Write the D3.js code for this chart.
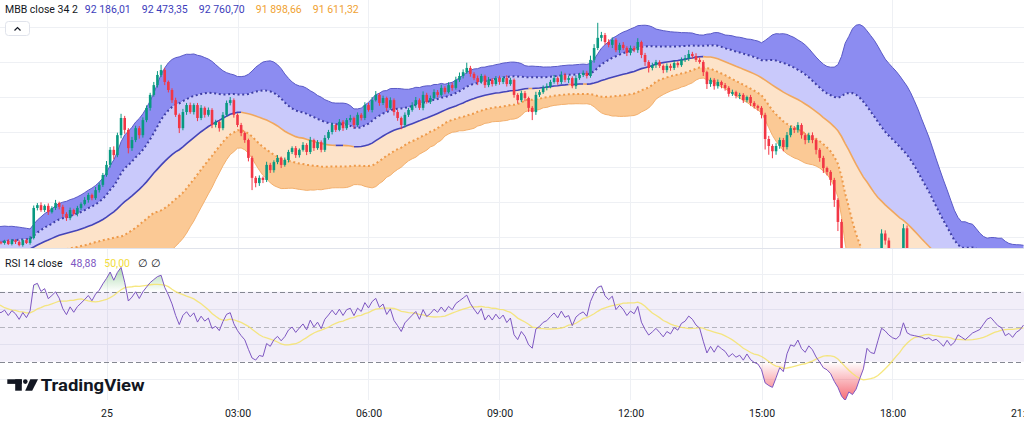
<!DOCTYPE html>
<html>
<head>
<meta charset="utf-8">
<script src="https://cdn.jsdelivr.net/npm/d3@7"></script>
<style>
  body { margin: 0; background: #fff; }
  svg { display: block; font-family: Roboto, "Noto Sans", sans-serif; }
</style>
</head>
<body>
<div id="chart"></div>
<script>
(function () {

  // 5 minute bars, first visible bar is 24 Nov 21:35 (UTC)
  const startTime = Date.UTC(2024, 10, 24, 21, 35)
  const barMs = 5 * 60 * 1000

  // closes before the visible window (needed for the 34 bar bands and RSI)
  const warmup = [
    91600, 91500, 91450, 91550, 91400, 91350, 91500, 91600, 91550, 91700,
    91650, 91800, 91750, 91900, 91850, 92000, 91950, 92150, 92100, 92300,
    92250, 92450, 92400, 92600, 92550, 92750, 92700, 92950, 92700, 92900,
    92650, 92850, 92700, 92900, 92750, 92850, 92700, 92900, 92800, 92850
  ]

  // visible closes (open = previous close)
  const closes = [
    92830, 92890, 92800, 92910, 92860, 92770, 92910, 92830, 92970, 93830,
    93910, 93770, 93890, 93710, 93830, 93970, 93860, 93660, 93540, 93770,
    93660, 93830, 93940, 94060, 94200, 94110, 94340, 94490, 94770, 95060,
    95490, 95340, 95910, 96400, 96060, 95540, 95770, 96110, 95910, 96340,
    96690, 97060, 97340, 97630, 97770, 97430, 97200, 96910, 96490, 96110,
    96570, 96770, 96570, 96770, 96400, 96690, 96490, 96630, 96200, 96290,
    96110, 96490, 96830, 96910, 96490, 96200, 95970, 95770, 95260, 94690,
    94540, 94690, 94630, 95060, 94910, 95140, 95260, 95060, 95200, 95430,
    95540, 95340, 95490, 95630, 95430, 95770, 95540, 95710, 95490, 95830,
    96000, 96200, 96060, 96290, 96110, 96340, 96400, 96200, 96490, 96400,
    96770, 96630, 96910, 97060, 96830, 96970, 96690, 96910, 96570, 96400,
    96200, 96490, 96630, 96770, 96910, 96690, 97060, 96860, 96970, 97140,
    97060, 97260, 97140, 97340, 97260, 97490, 97600, 97710, 97830, 97660,
    97540, 97430, 97600, 97340, 97490, 97370, 97540, 97430, 97540, 97370,
    97490, 97060, 96910, 97110, 96970, 96690, 96570, 97060, 97140, 97260,
    97310, 97430, 97540, 97430, 97630, 97490, 97540, 97310, 97540, 97630,
    97690, 97600, 98060, 98400, 98690, 98770, 98570, 98490, 98630, 98340,
    98490, 98400, 98260, 98400, 98340, 98570, 98200, 98000, 97830, 97910,
    98000, 97890, 97770, 97890, 97830, 97970, 97910, 98060, 98110, 98230,
    98170, 98060, 98000, 97710, 97370, 97490, 97310, 97430, 97340, 97260,
    97090, 97140, 97030, 97060, 96910, 97000, 96830, 96740, 96690, 96490,
    95800, 95600, 95450, 95600, 95770, 95570, 95910, 96110, 96060, 96200,
    95910, 95770, 95910, 95770, 95490, 95260, 94970, 94860, 94630, 94060,
    93430, 91900, 90500, 90800, 90100, 90300, 90700, 91100, 92100, 91700,
    91600, 92300, 93100, 92900, 92600, 92400, 92300, 92500, 93250, 92600,
    92450, 92400, 92350, 92300, 92200, 92250, 92100, 92150, 92000, 91800,
    92000, 91750, 91850, 92100, 92000, 91900, 92000, 92100, 92150, 92200,
    92350, 92500, 92550, 92450, 92350, 92300, 92100, 92150, 92050, 92150,
    92200, 92300
  ]

  // upper / lower wick length beyond the body, USD
  const wickUp = [
    40, 30, 50, 35, 25, 45, 30, 40, 60, 70,
    60, 80, 40, 70, 50, 90, 40, 60, 50, 70,
    40, 60, 50, 80, 60, 40, 90, 70, 60, 110,
    80, 100, 70, 120, 60, 50, 90, 70, 60, 80,
    70, 60, 90, 110, 150, 60, 40, 50, 70, 40,
    90, 60, 70, 50, 60, 80, 40, 70, 50, 60,
    40, 80, 70, 90, 50, 40, 60, 50, 40, 60,
    50, 70, 40, 90, 60, 50, 80, 40, 70, 60,
    50, 60, 40, 80, 50, 90, 40, 60, 50, 80,
    60, 70, 40, 80, 50, 60, 90, 40, 70, 50,
    80, 60, 90, 110, 50, 70, 40, 80, 50, 60,
    40, 70, 60, 80, 90, 50, 100, 60, 70, 80,
    60, 90, 50, 80, 70, 90, 100, 80, 150, 60,
    50, 70, 60, 40, 80, 50, 60, 70, 50, 80,
    60, 40, 50, 70, 60, 40, 50, 90, 60, 70,
    80, 60, 90, 50, 100, 60, 70, 50, 80, 60,
    70, 60, 120, 110, 430, 90, 60, 80, 70, 50,
    60, 80, 50, 70, 60, 110, 40, 60, 50, 70,
    60, 50, 40, 70, 60, 80, 50, 70, 90, 110,
    60, 80, 70, 50, 40, 60, 50, 70, 40, 60,
    50, 70, 40, 60, 50, 40, 60, 50, 40, 50,
    60, 90, 50, 80, 70, 60, 90, 70, 60, 80,
    50, 60, 70, 80, 40, 50, 60, 40, 50, 60,
    50, 80, 60, 50, 40, 70, 90, 120, 150, 110,
    130, 150, 120, 90, 80, 70, 60, 90, 120, 80,
    70, 60, 80, 50, 60, 90, 50, 70, 60, 80,
    90, 60, 70, 80, 60, 50, 70, 60, 80, 70,
    90, 80, 60, 70, 60, 50, 70, 60, 80, 60,
    70, 60
  ]
  const wickDn = [
    40, 50, 30, 40, 60, 35, 45, 30, 50, 40,
    70, 50, 60, 80, 40, 60, 70, 90, 80, 60,
    50, 70, 60, 40, 80, 60, 50, 70, 60, 50,
    80, 120, 60, 90, 110, 150, 80, 60, 100, 70,
    60, 80, 50, 70, 60, 90, 70, 80, 60, 140,
    60, 80, 50, 70, 90, 60, 80, 50, 90, 70,
    100, 60, 50, 70, 80, 60, 90, 80, 100, 350,
    120, 80, 90, 60, 80, 70, 60, 90, 50, 70,
    60, 80, 70, 50, 90, 60, 80, 50, 70, 60,
    50, 70, 60, 40, 80, 50, 60, 90, 50, 70,
    60, 50, 70, 40, 80, 60, 90, 50, 100, 80,
    120, 70, 60, 50, 80, 60, 70, 50, 60, 40,
    70, 50, 60, 40, 80, 50, 60, 70, 50, 80,
    60, 90, 50, 80, 60, 70, 50, 80, 60, 70,
    50, 80, 100, 60, 90, 120, 230, 80, 60, 50,
    70, 60, 50, 80, 60, 70, 90, 60, 80, 50,
    60, 70, 50, 80, 60, 100, 80, 70, 90, 60,
    80, 60, 90, 70, 60, 80, 90, 110, 130, 70,
    80, 60, 90, 70, 80, 60, 70, 50, 60, 80,
    70, 60, 50, 110, 140, 80, 100, 70, 90, 80,
    80, 60, 70, 90, 80, 60, 90, 70, 80, 100,
    300, 250, 200, 100, 80, 120, 70, 60, 90, 80,
    100, 120, 80, 90, 130, 110, 140, 100, 160, 200,
    260, 300, 250, 280, 320, 350, 200, 150, 180, 200,
    160, 150, 140, 120, 100, 110, 130, 90, 100, 120,
    80, 90, 70, 100, 80, 90, 110, 80, 120, 150,
    90, 140, 80, 70, 100, 90, 80, 70, 90, 80,
    60, 80, 70, 90, 80, 100, 90, 80, 70, 90,
    80, 70
  ]

  const priceTicks = [93000, 94000, 95000, 96000, 97000, 98000, 99000]
  const rsiGrid = [20, 40, 60, 80]
  const rsiLevels = [70, 50, 30]
  const mbbTitle = "MBB close 34 2"
  const mbbValues = ["92 186,01", "92 473,35", "92 760,70", "91 898,66", "91 611,32"]
  const rsiTitle = "RSI 14 close"
  const rsiValues = ["48,88", "50,00", "\u2205 \u2205"]

  const width = 1024
  const height = 425
  const mainBottom = 248
  const rsiTop = 249
  const rsiBottom = 400

  const upColor = "#089981"
  const downColor = "#f23645"

  const svg = d3.select("#chart").append("svg")
    .attr("width", width)
    .attr("height", height)

  const xs = d3.scaleUtc()
    .domain([new Date(Date.UTC(2024, 10, 25, 0, 0)), new Date(Date.UTC(2024, 10, 25, 21, 0))])
    .range([106.5, 1023.5])

  const yPrice = d3.scaleLinear().domain([93000, 99000]).range([237, 27])
  const yRsi = d3.scaleLinear().domain([30, 70]).range([361.7, 291.7])

  // bars
  const all = warmup.concat(closes)
  const n0 = warmup.length
  const bars = all.map((c, j) => ({ j, t: new Date(startTime + (j - n0) * barMs), close: c }))

  // multi bollinger bands: sma 34, population stdev
  const len = 34
  bars.forEach((b, j) => {
    if (j < len - 1) return
    const win = all.slice(j - len + 1, j + 1)
    const m = d3.mean(win)
    b.basis = m
    b.sd = Math.sqrt(d3.mean(win, v => (v - m) * (v - m)))
  })

  // RSI 14 (wilder) and its 14 sma
  let ag = 0, al = 0
  for (let j = 1; j < all.length; j++) {
    const ch = all[j] - all[j - 1]
    const g = Math.max(ch, 0), l = Math.max(-ch, 0)
    if (j <= 14) {
      ag += g / 14
      al += l / 14
      if (j < 14) continue
    } else {
      ag = (ag * 13 + g) / 14
      al = (al * 13 + l) / 14
    }
    bars[j].rsi = al === 0 ? 100 : 100 - 100 / (1 + ag / al)
  }
  bars.forEach((b, j) => {
    if (j < 27) return
    b.rsiMa = d3.mean(bars.slice(j - 13, j + 1), d => d.rsi)
  })

  const visible = bars.slice(n0).map((b, k) => {
    const o = all[b.j - 1]
    return Object.assign(b, {
      open: o,
      high: Math.max(o, b.close) + wickUp[k],
      low: Math.min(o, b.close) - wickDn[k]
    })
  })

  // clip paths
  const defs = svg.append("defs")
  defs.append("clipPath").attr("id", "clipMain")
    .append("rect").attr("x", 0).attr("y", 0).attr("width", width).attr("height", mainBottom)
  defs.append("clipPath").attr("id", "clipRsi")
    .append("rect").attr("x", 0).attr("y", rsiTop).attr("width", width).attr("height", rsiBottom - rsiTop)

  const ob = defs.append("linearGradient").attr("id", "obGrad")
    .attr("gradientUnits", "userSpaceOnUse")
    .attr("x1", 0).attr("x2", 0).attr("y1", yRsi(100)).attr("y2", yRsi(70))
  ob.append("stop").attr("offset", 0).attr("stop-color", "#4caf50").attr("stop-opacity", 1)
  ob.append("stop").attr("offset", 1).attr("stop-color", "#4caf50").attr("stop-opacity", 0)
  const os = defs.append("linearGradient").attr("id", "osGrad")
    .attr("gradientUnits", "userSpaceOnUse")
    .attr("x1", 0).attr("x2", 0).attr("y1", yRsi(0)).attr("y2", yRsi(30))
  os.append("stop").attr("offset", 0).attr("stop-color", "#f23645").attr("stop-opacity", 1)
  os.append("stop").attr("offset", 1).attr("stop-color", "#f23645").attr("stop-opacity", 0)

  // grid
  const timeTicks = xs.ticks(d3.utcHour.every(3))
  svg.append("g").selectAll("line")
    .data(timeTicks)
    .join("line")
    .attr("x1", d => Math.round(xs(d)) + 0.5)
    .attr("x2", d => Math.round(xs(d)) + 0.5)
    .attr("y1", 0)
    .attr("y2", rsiBottom)
    .attr("stroke", "#eef0f4")

  svg.append("g").selectAll("line")
    .data(priceTicks)
    .join("line")
    .attr("x1", 0).attr("x2", width)
    .attr("y1", d => Math.round(yPrice(d)) + 0.5)
    .attr("y2", d => Math.round(yPrice(d)) + 0.5)
    .attr("stroke", "#eef0f4")

  svg.append("g").selectAll("line")
    .data(rsiGrid)
    .join("line")
    .attr("x1", 0).attr("x2", width)
    .attr("y1", d => Math.round(yRsi(d)) + 0.5)
    .attr("y2", d => Math.round(yRsi(d)) + 0.5)
    .attr("stroke", "#eef0f4")

  // ---- main pane
  const main = svg.append("g").attr("clip-path", "url(#clipMain)")
  const bandBars = bars.filter(b => b.basis != null)
  const bx = d => xs(d.t)
  const band = (f0, f1) => d3.area().x(bx).y0(d => yPrice(f0(d))).y1(d => yPrice(f1(d)))
  const up2 = d => d.basis + 2 * d.sd
  const up1 = d => d.basis + d.sd
  const mid = d => d.basis
  const dn1 = d => d.basis - d.sd
  const dn2 = d => d.basis - 2 * d.sd

  main.append("path").datum(bandBars).attr("d", band(up1, up2)).attr("fill", "#8c8cf1")
  main.append("path").datum(bandBars).attr("d", band(mid, up1)).attr("fill", "#c9c9fb")
  main.append("path").datum(bandBars).attr("d", band(dn1, mid)).attr("fill", "#fde3c9")
  main.append("path").datum(bandBars).attr("d", band(dn2, dn1)).attr("fill", "#fbc995")

  const lineOf = f => d3.line().x(bx).y(d => yPrice(f(d)))

  main.append("path").datum(bandBars).attr("d", lineOf(up2))
    .attr("fill", "none").attr("stroke", "#5a5ac6").attr("stroke-width", 1)
  main.append("path").datum(bandBars).attr("d", lineOf(dn2))
    .attr("fill", "none").attr("stroke", "#f3b06e").attr("stroke-width", 1)
  main.append("path").datum(bandBars).attr("d", lineOf(up1))
    .attr("fill", "none").attr("stroke", "#3e3ea6").attr("stroke-width", 2)
    .attr("stroke-dasharray", "2 2.7")
  main.append("path").datum(bandBars).attr("d", lineOf(dn1))
    .attr("fill", "none").attr("stroke", "#ee9a4a").attr("stroke-width", 2)
    .attr("stroke-dasharray", "2 2.7")

  // basis: blue while rising, orange while falling
  const runs = []
  for (let i = 1; i < bandBars.length; i++) {
    const rising = bandBars[i].basis >= bandBars[i - 1].basis
    if (!runs.length || runs[runs.length - 1].rising !== rising) {
      runs.push({ rising, pts: [bandBars[i - 1]] })
    }
    runs[runs.length - 1].pts.push(bandBars[i])
  }
  main.selectAll(".basis")
    .data(runs)
    .join("path")
    .attr("class", "basis")
    .attr("d", d => lineOf(mid)(d.pts))
    .attr("fill", "none")
    .attr("stroke", d => d.rising ? "#4444b8" : "#f0a75e")
    .attr("stroke-width", 1.6)

  // candles
  const bodyW = 2.6
  const candle = main.append("g").selectAll("g")
    .data(visible)
    .join("g")
  candle.append("line")
    .attr("x1", d => xs(d.t)).attr("x2", d => xs(d.t))
    .attr("y1", d => yPrice(d.high)).attr("y2", d => yPrice(d.low))
    .attr("stroke", d => d.close >= d.open ? upColor : downColor)
    .attr("stroke-width", 1)
  candle.append("rect")
    .attr("x", d => xs(d.t) - bodyW / 2)
    .attr("width", bodyW)
    .attr("y", d => yPrice(Math.max(d.open, d.close)))
    .attr("height", d => Math.max(1, Math.abs(yPrice(d.open) - yPrice(d.close))))
    .attr("fill", d => d.close >= d.open ? upColor : downColor)

  // pane separator
  svg.append("line")
    .attr("x1", 0).attr("x2", width)
    .attr("y1", mainBottom + 0.5).attr("y2", mainBottom + 0.5)
    .attr("stroke", "#e0e3eb")

  // ---- RSI pane
  const rsiG = svg.append("g").attr("clip-path", "url(#clipRsi)")
  rsiG.append("rect")
    .attr("x", 0).attr("width", width)
    .attr("y", yRsi(70)).attr("height", yRsi(30) - yRsi(70))
    .attr("fill", "rgba(126,87,194,0.1)")

  rsiG.selectAll(".lvl")
    .data(rsiLevels)
    .join("line")
    .attr("class", "lvl")
    .attr("x1", 0).attr("x2", width)
    .attr("y1", d => Math.round(yRsi(d)) + 0.5)
    .attr("y2", d => Math.round(yRsi(d)) + 0.5)
    .attr("stroke", "#787b86")
    .attr("stroke-opacity", d => d === 50 ? 0.5 : 0.9)
    .attr("stroke-dasharray", "5 3")

  const rsiBars = bars.filter(b => b.rsi != null)
  rsiG.append("path").datum(rsiBars)
    .attr("d", d3.area().x(bx).y0(yRsi(70)).y1(d => yRsi(Math.max(d.rsi, 70))))
    .attr("fill", "url(#obGrad)")
  rsiG.append("path").datum(rsiBars)
    .attr("d", d3.area().x(bx).y0(yRsi(30)).y1(d => yRsi(Math.min(d.rsi, 30))))
    .attr("fill", "url(#osGrad)")

  rsiG.append("path").datum(bars.filter(b => b.rsiMa != null))
    .attr("d", d3.line().x(bx).y(d => yRsi(d.rsiMa)))
    .attr("fill", "none").attr("stroke", "#f5e36a").attr("stroke-width", 1.3)
    .attr("stroke-opacity", 0.85)
  rsiG.append("path").datum(rsiBars)
    .attr("d", d3.line().x(bx).y(d => yRsi(d.rsi)))
    .attr("fill", "none").attr("stroke", "#7e57c2").attr("stroke-width", 1)

  // ---- legends
  function legend (y, items, firstGap, gap) {
    let xx = 5
    items.forEach((it, i) => {
      const t = svg.append("text")
        .attr("x", xx).attr("y", y)
        .attr("font-size", 10.5)
        .attr("fill", it.color)
        .text(it.text)
      xx += t.node().getComputedTextLength() + (i === 0 ? firstGap : gap)
    })
  }
  legend(12.7, [{ text: mbbTitle, color: "#131722" }]
    .concat(mbbValues.map((v, i) => ({ text: v, color: i < 3 ? "#3d3dbb" : "#f0a232" }))), 7, 11)
  legend(266.7, [
    { text: rsiTitle, color: "#131722" },
    { text: rsiValues[0], color: "#7e57c2" },
    { text: rsiValues[1], color: "#f2dc3a" },
    { text: rsiValues[2], color: "#131722" }
  ], 8, 8)

  // collapse button
  svg.append("rect")
    .attr("x", 5.5).attr("y", 21.5).attr("width", 24).attr("height", 14).attr("rx", 3)
    .attr("fill", "#fff").attr("stroke", "#e0e3eb")
  svg.append("path")
    .attr("d", "M14.5,30.5 L17.5,27.5 L20.5,30.5")
    .attr("fill", "none").attr("stroke", "#131722").attr("stroke-width", 1.2)

  // ---- time axis
  const fmt = d => d.getUTCHours() === 0 ? d3.utcFormat("%-d")(d) : d3.utcFormat("%H:%M")(d)
  const axis = svg.append("g")
    .attr("transform", "translate(0," + (rsiBottom + 6.5) + ")")
    .call(d3.axisBottom(xs).tickValues(timeTicks).tickFormat(fmt).tickSize(0).tickPadding(3))
  axis.select(".domain").remove()
  axis.selectAll("text")
    .attr("font-size", 10.5)
    .attr("font-family", "Roboto, sans-serif")
    .attr("fill", "#131722")

  // ---- watermark
  const logo = svg.append("g").attr("fill", "#131722")
  logo.append("rect").attr("x", 7.3).attr("y", 379.3).attr("width", 14.5).attr("height", 4.6)
  logo.append("rect").attr("x", 15.2).attr("y", 379.3).attr("width", 6.6).attr("height", 11.4)
  logo.append("circle").attr("cx", 25.3).attr("cy", 381.6).attr("r", 2.3)
  logo.append("path").attr("d", "M30.3,379.3 L38,379.3 L32.2,390.7 L25.2,390.7 Z")
  logo.append("text")
    .attr("x", 40.7).attr("y", 390.7)
    .attr("font-size", 16)
    .attr("font-weight", 700)
    .attr("textLength", 104)
    .attr("lengthAdjust", "spacingAndGlyphs")
    .text("TradingView")

})();
</script>
</body>
</html>
